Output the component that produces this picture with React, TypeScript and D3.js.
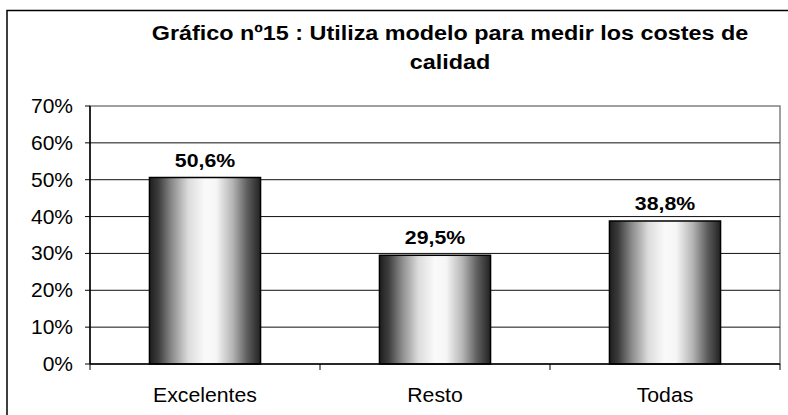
import React from "react";
import * as d3 from "d3";

const categories = ["Excelentes", "Resto", "Todas"];
const values = [50.6, 29.5, 38.8];
const valueLabels = ["50,6%", "29,5%", "38,8%"];
const yTicks = [0, 10, 20, 30, 40, 50, 60, 70];
const titleLines = ["Gráfico nº15 : Utiliza modelo para medir los costes de", "calidad"];

const W = 788;
const H = 415;
const plot = { left: 90, right: 780, top: 106, bottom: 364 };
const FONT = "Arial, 'Liberation Sans', sans-serif";

export default function App() {
  const x = d3
    .scaleBand<string>()
    .domain(categories)
    .range([plot.left, plot.right])
    .paddingInner(0.517)
    .paddingOuter(0.2585);
  const y = d3.scaleLinear().domain([0, 70]).range([plot.bottom, plot.top]);
  const step = (plot.right - plot.left) / categories.length;
  const boundaries = d3.range(categories.length + 1).map((i) => plot.left + i * step);

  return (
    <svg
      width={W}
      height={H}
      style={{ position: "absolute", left: 0, top: 0, background: "#fff" }}
      fontFamily={FONT}
    >
      <defs>
        <linearGradient id="cyl" x1="0" x2="1" y1="0" y2="0">
          <stop offset="0" stopColor="#1e1e1e" />
          <stop offset="0.08" stopColor="#3c3c3c" />
          <stop offset="0.2" stopColor="#8a8a8a" />
          <stop offset="0.35" stopColor="#dcdcdc" />
          <stop offset="0.5" stopColor="#fafafa" />
          <stop offset="0.6" stopColor="#f6f6f6" />
          <stop offset="0.75" stopColor="#b4b4b4" />
          <stop offset="0.88" stopColor="#5e5e5e" />
          <stop offset="1" stopColor="#222" />
        </linearGradient>
      </defs>
      <rect width={W} height={H} fill="#fff" />
      {/* outer chart border */}
      <rect x={7} y={10.5} width={W + 10} height={H + 10} fill="none" stroke="#000" strokeWidth={1.5} />

      {/* title */}
      {titleLines.map((t, i) => (
        <text
          key={i}
          transform={`translate(450,${39.5 + i * 29.5}) scale(1.14,1)`}
          textAnchor="middle"
          fontWeight="bold"
          fontSize={20.5}
          fill="#000"
        >
          {t}
        </text>
      ))}

      {/* plot area border */}
      <rect
        x={plot.left}
        y={plot.top}
        width={plot.right - plot.left}
        height={plot.bottom - plot.top}
        fill="#fff"
        stroke="#808080"
        strokeWidth={1.5}
      />

      {/* gridlines */}
      {yTicks
        .filter((v) => v > 0 && v < 70)
        .map((v) => (
          <line key={v} x1={plot.left} x2={plot.right} y1={y(v)} y2={y(v)} stroke="#111" strokeWidth={1} />
        ))}

      {/* bars */}
      {categories.map((c, i) => (
        <g key={c}>
          <rect
            x={x(c)}
            y={y(values[i])}
            width={x.bandwidth()}
            height={plot.bottom - y(values[i])}
            fill="url(#cyl)"
            stroke="#000"
            strokeWidth={1.5}
          />
          <text
            transform={`translate(${x(c)! + x.bandwidth() / 2},${y(values[i]) - 11}) scale(1.12,1)`}
            textAnchor="middle"
            fontWeight="bold"
            fontSize={19}
            fill="#000"
          >
            {valueLabels[i]}
          </text>
          <text
            transform={`translate(${x(c)! + x.bandwidth() / 2},402) scale(1.09,1)`}
            textAnchor="middle"
            fontSize={19.5}
            fill="#000"
          >
            {c}
          </text>
        </g>
      ))}

      {/* y axis */}
      <line x1={plot.left} x2={plot.left} y1={plot.top} y2={plot.bottom} stroke="#000" strokeWidth={1.5} />
      {yTicks.map((v) => (
        <g key={v}>
          <line x1={plot.left - 5} x2={plot.left} y1={y(v)} y2={y(v)} stroke="#000" strokeWidth={1} />
          <text
            transform={`translate(73,${y(v) + 7}) scale(1.05,1)`}
            textAnchor="end"
            fontSize={20}
            fill="#000"
          >
            {v}%
          </text>
        </g>
      ))}

      {/* x axis */}
      <line x1={plot.left} x2={plot.right} y1={plot.bottom} y2={plot.bottom} stroke="#000" strokeWidth={1.5} />
      {boundaries.map((b, i) => (
        <line key={i} x1={b} x2={b} y1={plot.bottom} y2={plot.bottom + 6} stroke="#000" strokeWidth={1} />
      ))}
    </svg>
  );
}
